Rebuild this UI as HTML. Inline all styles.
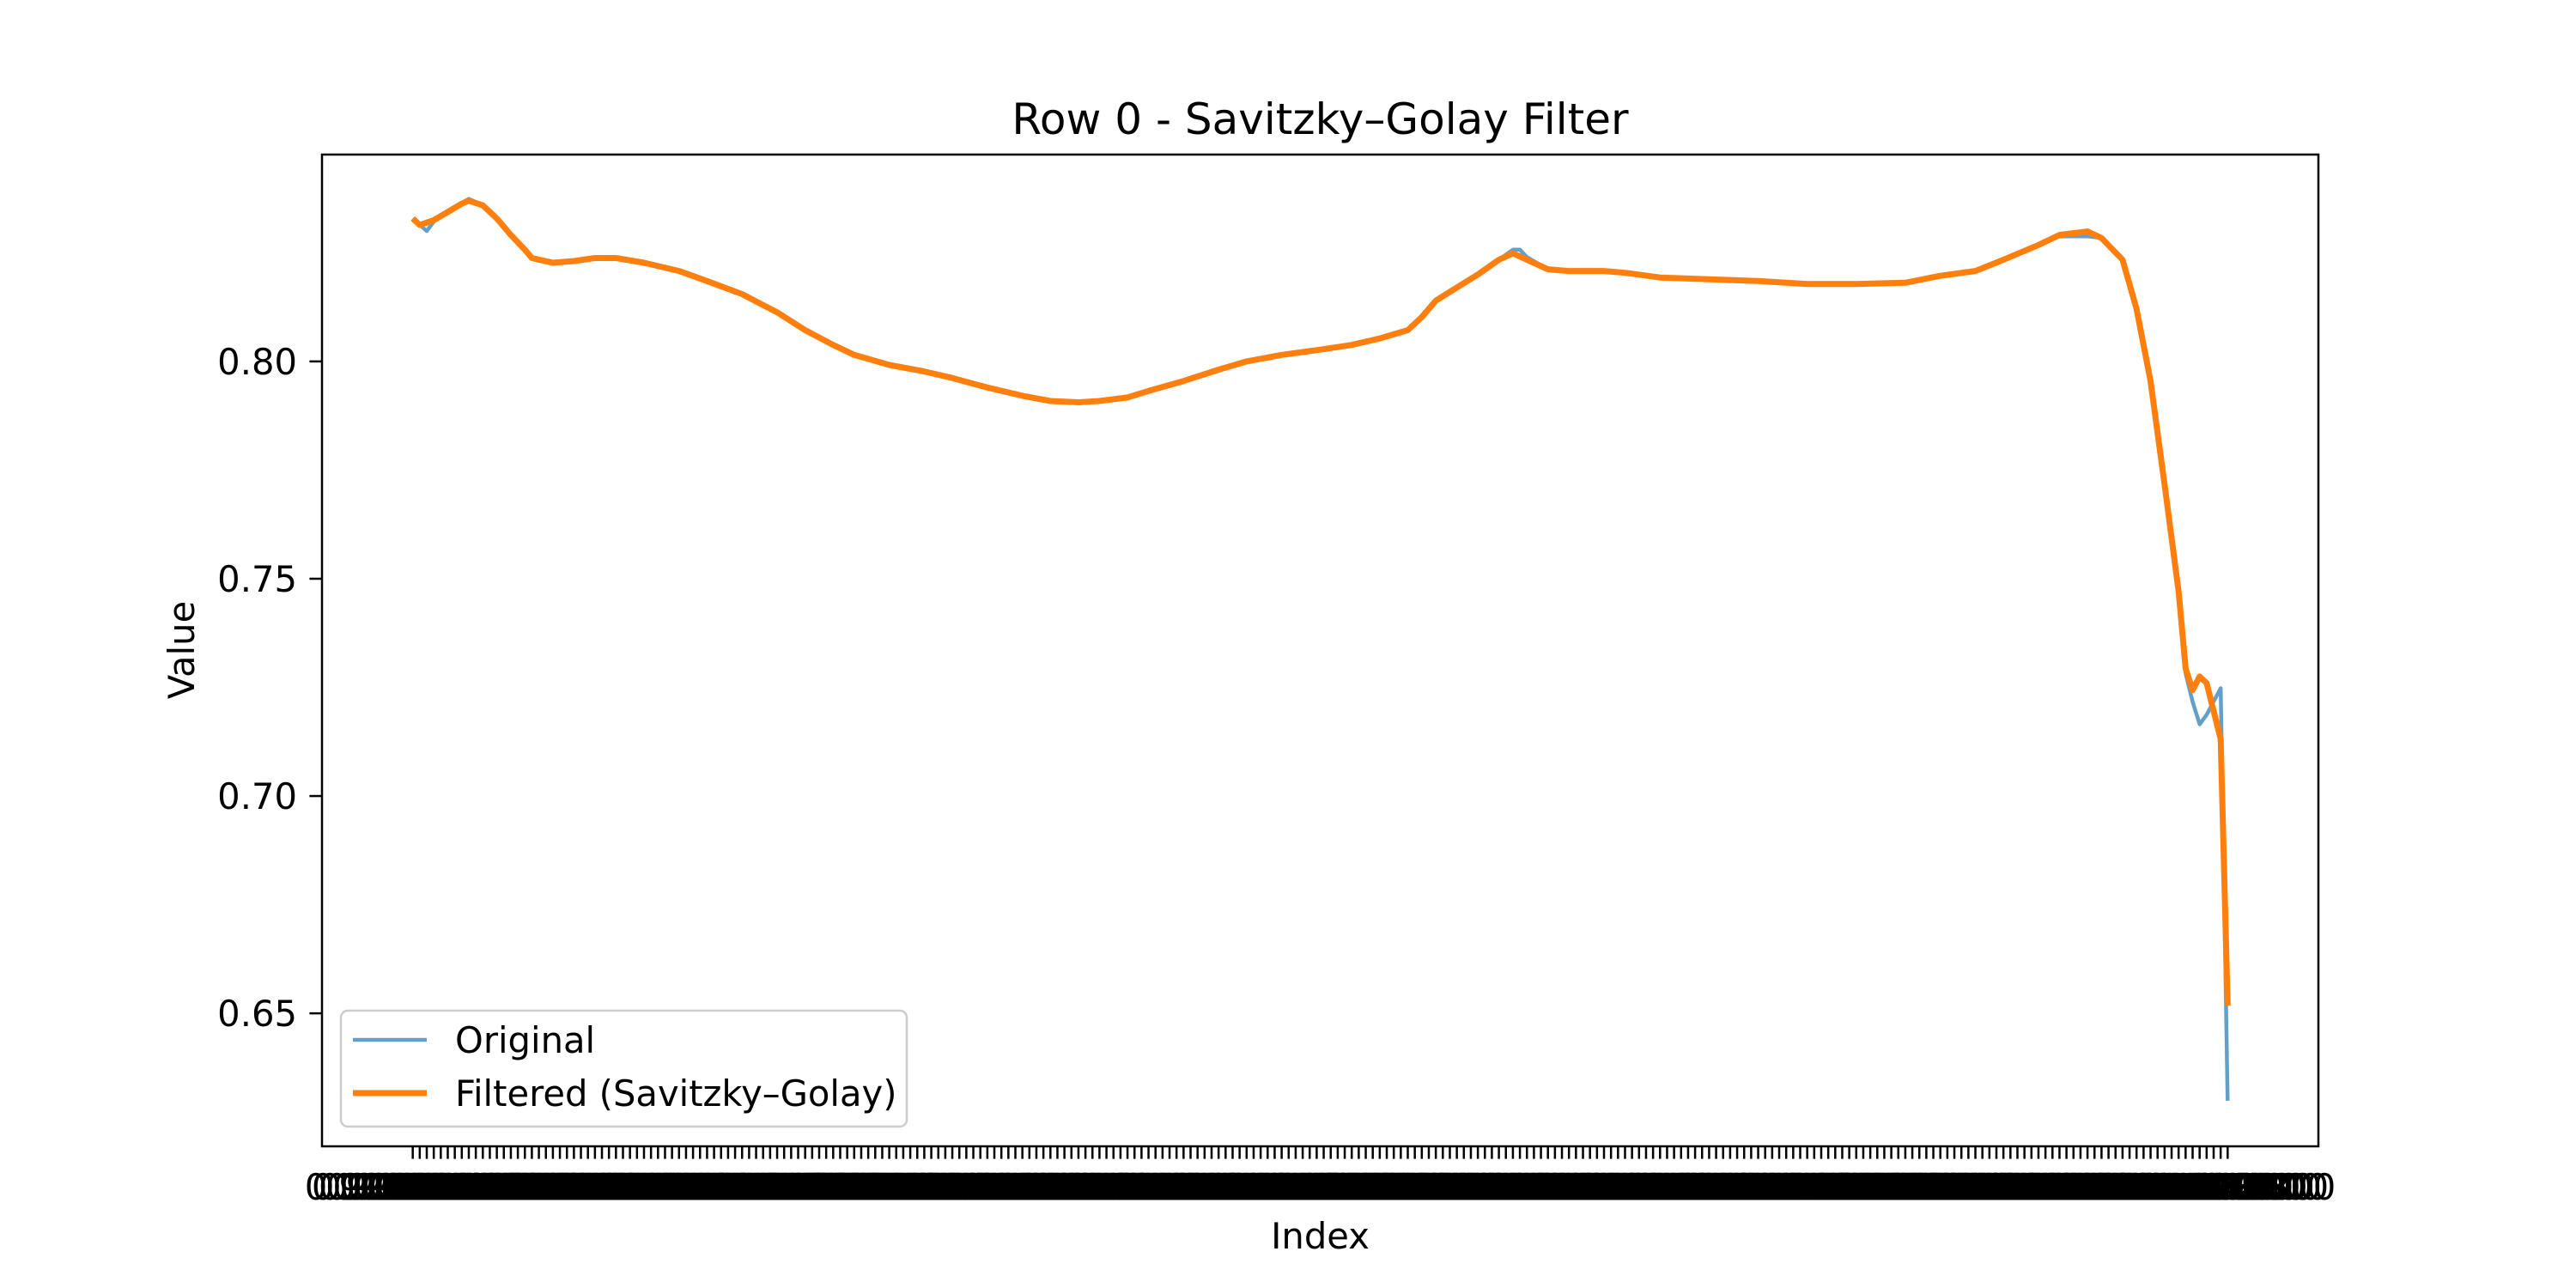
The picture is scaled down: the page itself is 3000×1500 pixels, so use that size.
<!DOCTYPE html>
<html><head><meta charset="utf-8"><style>
html,body{margin:0;padding:0;background:#fff;}
svg{display:block;font-family:"DejaVu Sans","Liberation Sans",sans-serif;}
</style></head><body>
<svg id="chart" width="3000" height="1500" viewBox="0 0 3000 1500">
<rect x="0" y="0" width="3000" height="1500" fill="#fff"/>
<text x="1537.5" y="156" font-size="50" text-anchor="middle">Row 0 - Savitzky–Golay Filter</text>
<g id="xticks"></g>
<g id="yticks"></g>
<g id="plot"></g>
<rect x="375" y="180" width="2325" height="1155" fill="none" stroke="#000" stroke-width="2.5"/>
<text x="1537.5" y="1454" font-size="41.7" text-anchor="middle">Index</text>
<text x="0" y="0" font-size="41.7" text-anchor="middle" transform="translate(226,757) rotate(-90)">Value</text>
<g>
<rect x="397" y="1177" width="659" height="135" rx="8" fill="#fff" fill-opacity="0.8" stroke="#ccc" stroke-width="2.5"/>
<line x1="411" y1="1211" x2="497" y2="1211" stroke="#1f77b4" stroke-opacity="0.7" stroke-width="4.5"/>
<text x="530" y="1226" font-size="41.7">Original</text>
<line x1="411" y1="1273" x2="497" y2="1273" stroke="#ff7f0e" stroke-width="7"/>
<text x="530" y="1288" font-size="41.7">Filtered (Savitzky–Golay)</text>
</g>
</svg>
<script>
const N = 260;
const filtIdx = [0,1,3,5,7,8,10,12,14,16,17,20,23,26,29,33,38,42,47,52,56,60,63,68,73,77,82,87,91,95,98,102,105,110,115,119,124,129,134,138,142,144,146,149,152,155,157,159,162,165,170,173,178,185,192,199,206,213,218,223,227,232,235,239,241,244,246,248,250,252,253,254,255,256,258,259];
const filtVal = [0.8329,0.8314,0.8325,0.8344,0.8363,0.8370,0.8359,0.8329,0.8291,0.8257,0.8238,0.8227,0.8231,0.8238,0.8238,0.8227,0.8208,0.8185,0.8155,0.8113,0.8072,0.8038,0.8015,0.7992,0.7977,0.7962,0.7940,0.7921,0.7909,0.7906,0.7909,0.7917,0.7932,0.7955,0.7981,0.8000,0.8015,0.8026,0.8038,0.8053,0.8072,0.8102,0.8140,0.8170,0.8200,0.8234,0.8249,0.8234,0.8212,0.8208,0.8208,0.8204,0.8193,0.8189,0.8185,0.8178,0.8178,0.8181,0.8197,0.8208,0.8234,0.8268,0.8291,0.8299,0.8284,0.8234,0.8121,0.7955,0.7716,0.7471,0.7293,0.7244,0.7275,0.7260,0.7131,0.6518];
const origIdx = [0,2,3,5,7,8,10,12,14,16,17,20,23,26,29,33,38,42,47,52,56,60,63,68,73,77,82,87,91,95,98,102,105,110,115,119,124,129,134,138,142,144,146,149,152,155,157,158,159,162,165,170,173,178,185,192,199,206,213,218,223,227,232,235,239,241,244,246,248,250,252,253,254,255,256,258,259];
const origVal = [0.8329,0.8300,0.8322,0.8344,0.8365,0.8374,0.8359,0.8329,0.8291,0.8257,0.8238,0.8227,0.8231,0.8238,0.8238,0.8227,0.8208,0.8185,0.8155,0.8113,0.8072,0.8038,0.8015,0.7992,0.7977,0.7962,0.7940,0.7921,0.7909,0.7906,0.7909,0.7917,0.7932,0.7955,0.7981,0.8000,0.8015,0.8026,0.8038,0.8053,0.8072,0.8102,0.8140,0.8170,0.8200,0.8234,0.8257,0.8257,0.8240,0.8212,0.8208,0.8208,0.8204,0.8193,0.8189,0.8185,0.8178,0.8178,0.8181,0.8197,0.8208,0.8234,0.8268,0.8288,0.8288,0.8284,0.8234,0.8121,0.7955,0.7716,0.7471,0.7282,0.7217,0.7165,0.7187,0.7248,0.6299];
const yTickVals = [0.65, 0.70, 0.75, 0.80];
const yTickLabels = ["0.65", "0.70", "0.75", "0.80"];
const xTickLabels = [];
for (let i = 0; i < N; i++) xTickLabels.push((0.9 + i * 0.000137).toFixed(8));

const L = 375, R = 2700, T = 180, B = 1335;
const xMin = -0.05 * (N - 1), xMax = (N - 1) * 1.05;
const yMin = 0.6194, yMax = 0.8476;
const sx = v => L + (v - xMin) / (xMax - xMin) * (R - L);
const sy = v => B - (v - yMin) / (yMax - yMin) * (B - T);
const NS = "http://www.w3.org/2000/svg";

const xt = document.getElementById('xticks');
for (let i = 0; i < N; i++) {
  const x = sx(i);
  const t = document.createElementNS(NS, 'line');
  t.setAttribute('x1', x); t.setAttribute('x2', x);
  t.setAttribute('y1', B); t.setAttribute('y2', B + 14.6);
  t.setAttribute('stroke', '#000'); t.setAttribute('stroke-width', '2.5');
  
  
  xt.appendChild(t);
  const lb = document.createElementNS(NS, 'text');
  lb.setAttribute('x', x); lb.setAttribute('y', B + 62);
  lb.setAttribute('font-size', '41.7'); lb.setAttribute('text-anchor', 'middle');
  lb.textContent = xTickLabels[i];
  
  
  xt.appendChild(lb);
}
const yt = document.getElementById('yticks');
yTickVals.forEach((v, k) => {
  const y = sy(v);
  const t = document.createElementNS(NS, 'line');
  t.setAttribute('x1', L - 14.6); t.setAttribute('x2', L);
  t.setAttribute('y1', y); t.setAttribute('y2', y);
  t.setAttribute('stroke', '#000'); t.setAttribute('stroke-width', '2.5');
  
  
  yt.appendChild(t);
  const lb = document.createElementNS(NS, 'text');
  lb.setAttribute('x', L - 29); lb.setAttribute('y', y + 15);
  lb.setAttribute('font-size', '41.7'); lb.setAttribute('text-anchor', 'end');
  lb.textContent = yTickLabels[k];
  
  
  yt.appendChild(lb);
});
function path(idx, val) {
  return idx.map((i, k) => (k ? 'L' : 'M') + sx(i).toFixed(1) + ',' + sy(val[k]).toFixed(1)).join(' ');
}
const plot = document.getElementById('plot');
const po = document.createElementNS(NS, 'path');
po.setAttribute('d', path(origIdx, origVal));
po.setAttribute('fill', 'none'); po.setAttribute('stroke', '#1f77b4');
po.setAttribute('stroke-opacity', '0.7'); po.setAttribute('stroke-width', '4.5');
po.setAttribute('stroke-linejoin', 'round');


plot.appendChild(po);
const pf = document.createElementNS(NS, 'path');
pf.setAttribute('d', path(filtIdx, filtVal));
pf.setAttribute('fill', 'none'); pf.setAttribute('stroke', '#ff7f0e');
pf.setAttribute('stroke-width', '7'); pf.setAttribute('stroke-linejoin', 'round');


plot.appendChild(pf);
</script>
</body></html>
